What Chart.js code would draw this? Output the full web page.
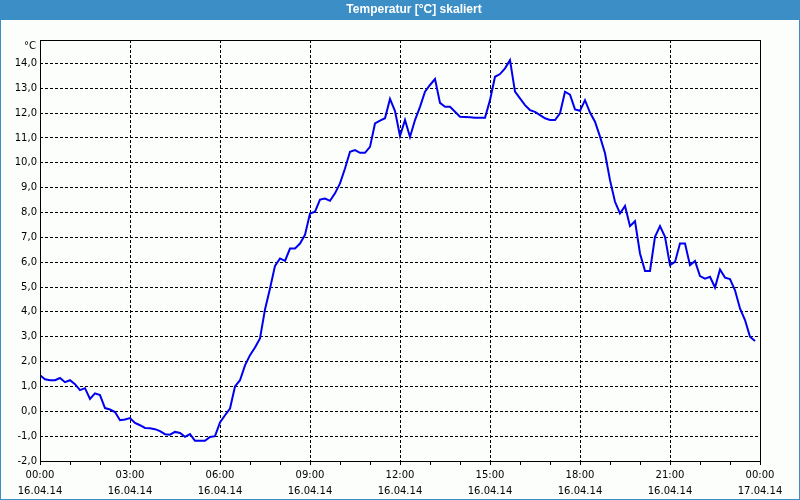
<!DOCTYPE html>
<html>
<head>
<meta charset="utf-8">
<script src="https://cdn.jsdelivr.net/npm/chart.js@4.4.0/dist/chart.umd.min.js"></script>
<style>
  html, body { margin: 0; padding: 0; background: #fcfefc; }
  canvas { display: block; }
</style>
</head>
<body>
<canvas id="tempChart" width="800" height="500"></canvas>
<script>
// Messwerte alle 10 Minuten, ab 16.04.14 00:00
const stepMinutes = 10;
const temperatures = [
    1.45, 1.29, 1.25, 1.25, 1.34, 1.17, 1.25, 1.09, 0.85, 0.93,
    0.50, 0.72, 0.65, 0.13, 0.07, -0.03, -0.36, -0.33, -0.27, -0.47,
    -0.56, -0.67, -0.68, -0.72, -0.80, -0.92, -0.94, -0.83, -0.87, -1.03,
    -0.92, -1.19, -1.19, -1.19, -1.03, -1.00, -0.45, -0.16, 0.11, 1.00,
    1.25, 1.85, 2.26, 2.57, 2.93, 4.10, 4.94, 5.85, 6.15, 6.05,
    6.55, 6.55, 6.75, 7.10, 7.96, 8.03, 8.52, 8.56, 8.47, 8.77,
    9.17, 9.77, 10.44, 10.51, 10.40, 10.40, 10.64, 11.58, 11.70, 11.79,
    12.57, 12.08, 11.08, 11.72, 11.04, 11.72, 12.25, 12.86, 13.13, 13.37,
    12.41, 12.25, 12.25, 12.05, 11.85, 11.84, 11.83, 11.81, 11.81, 11.81,
    12.52, 13.46, 13.57, 13.80, 14.13, 12.86, 12.59, 12.32, 12.12, 12.05,
    11.92, 11.79, 11.72, 11.72, 11.99, 12.86, 12.74, 12.15, 12.09, 12.52,
    12.02, 11.65, 11.05, 10.38, 9.30, 8.43, 7.96, 8.26, 7.45, 7.65,
    6.35, 5.65, 5.65, 7.02, 7.45, 7.02, 5.88, 6.01, 6.75, 6.75,
    5.88, 6.05, 5.44, 5.34, 5.41, 4.98, 5.71, 5.38, 5.32, 4.87,
    4.14, 3.67, 3.00, 2.83
];

// Achsenbeschriftungen
const yTicks = [-2, -1, 0, 1, 2, 3, 4, 5, 6, 7, 8, 9, 10, 11, 12, 13, 14];
const xHours = [0, 1, 2, 3, 4, 5, 6, 7, 8, 9, 10, 11, 12, 13, 14, 15, 16, 17, 18, 19, 20, 21, 22, 23, 24];
const xTimeLabels = ['00:00', '03:00', '06:00', '09:00', '12:00', '15:00', '18:00', '21:00', '00:00'];
const xDateLabels = ['16.04.14', '16.04.14', '16.04.14', '16.04.14', '16.04.14', '16.04.14', '16.04.14', '16.04.14', '17.04.14'];

const chartTitle = 'Temperatur [°C] skaliert';
const unitLabel = '°C';

const FONT = 'DejaVu Sans';

// Rahmen, Titelleiste und Einheit
const framePlugin = {
    id: 'frame',
    beforeDraw(chart) {
        const ctx = chart.ctx;
        const w = chart.width, h = chart.height;
        ctx.save();
        ctx.fillStyle = '#fcfefc';
        ctx.fillRect(0, 0, w, h);
        ctx.fillStyle = '#3b8ec6';
        ctx.fillRect(0, 0, w, 20);
        ctx.strokeStyle = '#3b8ec6';
        ctx.lineWidth = 1;
        ctx.strokeRect(0.5, 0.5, w - 1, h - 1);

        ctx.fillStyle = '#ffffff';
        ctx.font = 'bold 12px "Liberation Sans"';
        ctx.textAlign = 'center';
        ctx.textBaseline = 'middle';
        ctx.fillText(chartTitle, 414, 10);

        ctx.fillStyle = '#000000';
        ctx.font = '10px "' + FONT + '"';
        ctx.textAlign = 'right';
        ctx.fillText(unitLabel, 36, 46);
        ctx.restore();
    },
    afterDraw(chart) {
        const a = chart.chartArea;
        const ctx = chart.ctx;
        ctx.save();
        ctx.strokeStyle = '#000000';
        ctx.lineWidth = 1;
        ctx.setLineDash([]);
        ctx.strokeRect(Math.round(a.left) + 0.5, Math.round(a.top) + 0.5,
            Math.round(a.right - a.left), Math.round(a.bottom - a.top));
        ctx.restore();
    }
};

const points = temperatures.map((t, i) => ({ x: i * stepMinutes / 60, y: t }));

new Chart(document.getElementById('tempChart'), {
    type: 'line',
    data: {
        datasets: [{
            data: points,
            borderColor: '#0000ee',
            borderWidth: 2,
            pointRadius: 0,
            tension: 0,
            fill: false
        }]
    },
    options: {
        responsive: false,
        animation: false,
        devicePixelRatio: 1,
        layout: { padding: { top: 40, right: 40, left: 0, bottom: 0 } },
        plugins: {
            legend: { display: false },
            tooltip: { enabled: false }
        },
        scales: {
            x: {
                type: 'linear',
                min: 0,
                max: 24,
                afterBuildTicks: s => { s.ticks = xHours.map(v => ({ value: v })); },
                afterFit: s => { s.height = 39; },
                ticks: {
                    autoSkip: false,
                    maxRotation: 0,
                    padding: 2,
                    color: '#000',
                    font: { family: FONT, size: 10, lineHeight: 1.6 },
                    callback: v => (v % 3 === 0 ? [xTimeLabels[v / 3], xDateLabels[v / 3]] : '')
                },
                grid: {
                    color: c => (c.tick && c.tick.value % 3 === 0 ? '#000' : 'rgba(0,0,0,0)'),
                    tickColor: '#000',
                    tickLength: 4,
                    tickBorderDash: [],
                    borderDash: [3, 2]
                },
                border: { display: false, dash: [3, 2] }
            },
            y: {
                min: -2,
                max: 14.94,
                afterBuildTicks: s => { s.ticks = yTicks.map(v => ({ value: v })); },
                afterFit: s => { s.width = 40; },
                ticks: {
                    padding: 3,
                    color: '#000',
                    font: { family: FONT, size: 10 },
                    callback: v => v.toFixed(1).replace('.', ',')
                },
                grid: {
                    color: '#000',
                    drawTicks: false,
                    tickBorderDash: [],
                    borderDash: [3, 2]
                },
                border: { display: false, dash: [3, 2] }
            }
        }
    },
    plugins: [framePlugin]
});
</script>
</body>
</html>
